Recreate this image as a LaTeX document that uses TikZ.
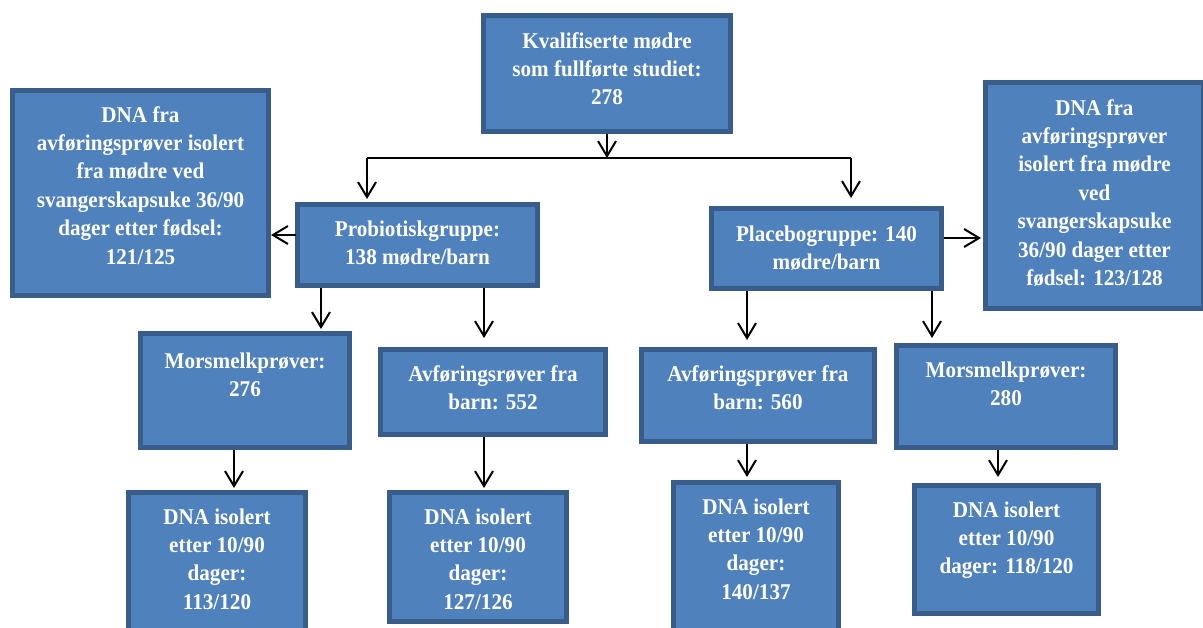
\documentclass[tikz,border=0pt]{standalone}
\usepackage{fontspec}
\setmainfont[FakeStretch=0.94]{Liberation Serif}
\usetikzlibrary{arrows.meta}
\definecolor{fillc}{RGB}{79,129,189}
\definecolor{bordc}{RGB}{56,93,138}
\newcommand\mybox[7]{%
  \pgfmathsetmacro\bw{#4-#2-5}%
  \pgfmathsetmacro\bh{#5-#3-5}%
  \pgfmathsetmacro\bs{#6-#3-2.5}%
  \node[box] (#1) at ({(#2+#4)/2},{(#3+#5)/2})
    {\parbox[c][\bh pt][t]{\bw pt}{\centering\rule{0pt}{\bs pt}#7}};}
\begin{document}
\begin{tikzpicture}[x=1pt,y=-1pt,
  box/.style={draw=bordc, fill=fillc, line width=5pt, inner sep=0pt, outer sep=0pt,
    text=white, font=\bfseries\fontsize{22.5}{28.4}\selectfont},
  arr/.style={draw=black, line width=2pt, -{Straight Barb[length=15pt,width=18pt]}},
  ln/.style={draw=black, line width=2pt}]
\clip (0,0) rectangle (1203,627);
\useasboundingbox (0,0) rectangle (1203,627);

\mybox{A}{481}{13}{733}{134}{48}{Kvalifiserte mødre\\som fullførte studiet:\\278}
\mybox{LDNA}{10}{88}{271}{298}{122}{DNA fra\\avføringsprøver isolert\\fra mødre ved\\svangerskapsuke 36/90\\dager etter fødsel:\\121/125}
\mybox{Prob}{295}{202}{540}{288}{236}{Probiotiskgruppe:\\138 mødre/barn}
\mybox{Plac}{709}{206}{944}{291}{241}{Placebogruppe: 140\\mødre/barn}
\mybox{RDNA}{983}{80}{1206}{311}{115}{DNA fra\\avføringsprøver\\isolert fra mødre\\ved\\svangerskapsuke\\36/90 dager etter\\fødsel: 123/128}
\mybox{MorsL}{138}{331}{352}{450}{368}{Morsmelkprøver:\\276}
\mybox{AvfL}{378}{347}{608}{437}{381}{Avføringsrøver fra\\barn: 552}
\mybox{AvfR}{639}{347}{877}{444}{381}{Avføringsprøver fra\\barn: 560}
\mybox{MorsR}{894}{343}{1118}{450}{377}{Morsmelkprøver:\\280}
\mybox{DNAa}{126}{490}{308}{645}{524}{DNA isolert\\etter 10/90\\dager:\\113/120}
\mybox{DNAb}{387}{490}{569}{624}{524}{DNA isolert\\etter 10/90\\dager:\\127/126}
\mybox{DNAc}{671}{480}{841}{645}{514}{DNA isolert\\etter 10/90\\dager:\\140/137}
\mybox{DNAd}{912}{483}{1101}{616}{517}{DNA isolert\\etter 10/90\\dager: 118/120}

\coordinate (split) at (607,158);
\coordinate (bl) at (367,158);
\coordinate (br) at (851,158);
\coordinate (yl) at (0,235);
\coordinate (yr) at (0,238);
\coordinate (x234) at (234,0);
\coordinate (x321) at (321,0);
\coordinate (x484) at (484,0);
\coordinate (x747) at (747,0);
\coordinate (x932) at (932,0);
\coordinate (x998) at (998,0);

\draw[arr, shorten <=2.5pt] (A.south) -- (split);
\draw[ln] (bl) -- (br);
\draw[arr, shorten >=5.5pt] (bl) -- (bl |- Prob.north);
\draw[arr, shorten >=10.5pt] (br) -- (br |- Plac.north);
\draw[arr, shorten <=2pt, shorten >=2.5pt] (Prob.west |- yl) -- (LDNA.east |- yl);
\draw[arr, shorten <=2.5pt, shorten >=4.5pt] (Plac.east |- yr) -- (RDNA.west |- yr);
\draw[arr, shorten <=2.5pt, shorten >=4.5pt] (Prob.south -| x321) -- (MorsL.north -| x321);
\draw[arr, shorten <=2.5pt, shorten >=11.5pt] (Prob.south -| x484) -- (AvfL.north -| x484);
\draw[arr, shorten <=2.5pt, shorten >=9.5pt] (Plac.south -| x747) -- (AvfR.north -| x747);
\draw[arr, shorten <=2.5pt, shorten >=7.5pt] (Plac.south -| x932) -- (MorsR.north -| x932);
\draw[arr, shorten <=2.5pt, shorten >=4.5pt] (MorsL.south -| x234) -- (DNAa.north -| x234);
\draw[arr, shorten <=2.5pt, shorten >=4.5pt] (AvfL.south -| x484) -- (DNAb.north -| x484);
\draw[arr, shorten <=2.5pt, shorten >=5.5pt] (AvfR.south -| x747) -- (DNAc.north -| x747);
\draw[arr, shorten <=2.5pt, shorten >=8.5pt] (MorsR.south -| x998) -- (DNAd.north -| x998);
\end{tikzpicture}
\end{document}
